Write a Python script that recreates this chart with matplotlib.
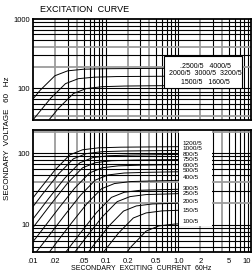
import matplotlib
matplotlib.use('Agg')
import matplotlib.pyplot as plt
from matplotlib.patches import Rectangle
from matplotlib.ticker import NullLocator

plt.rcParams['font.family'] = ['Liberation Sans Narrow', 'Liberation Sans', 'DejaVu Sans']

# ---------------- data ----------------
title = "EXCITATION  CURVE"
x_label = "SECONDARY  EXCITING  CURRENT  60Hz"
y_label = "SECONDARY  VOLTAGE   60   Hz"

x_ticks = [0.01, 0.02, 0.05, 0.1, 0.2, 0.5, 1.0, 2, 5, 10]
x_tick_labels = ['.01', '.02', '.05', '0.1', '0.2', '0.5', '1.0', '2', '5', '10']
top_y_ticks = [100, 1000]
top_y_tick_labels = ['100', '1000']
bottom_y_ticks = [10, 100]
bottom_y_tick_labels = ['10', '100']

top_legend_rows = ['.2500/5   4000/5', '2000/5  3000/5  3200/5', '1500/5   1600/5']

# top panel curves (current A, voltage V)
top_curve_a_i = [0.00125, 0.00375, 0.0075, 0.0125, 0.02, 0.03, 0.05, 0.1, 1.0]
top_curve_a_v = [4.9, 19.5, 48.8, 93.6, 152, 179, 189, 192, 195]
top_curve_b_i = [0.00175, 0.00525, 0.0105, 0.0175, 0.028, 0.042, 0.07, 0.14, 1.0]
top_curve_b_v = [3.75, 15, 37.5, 72, 117, 138, 145, 148, 150]
top_curve_c_i = [0.00225, 0.00675, 0.0135, 0.0225, 0.036, 0.054, 0.09, 0.18, 1.0]
top_curve_c_v = [2.7, 10.8, 27, 51.8, 84.2, 99.4, 105.8, 108, 110]

# bottom panel curves
bottom_ratios = ['1200/5', '1000/5', '800/5', '750/5', '600/5', '500/5',
                 '400/5', '300/5', '250/5', '200/5', '150/5', '100/5']
bottom_label_v = [137, 115, 97, 81, 68, 57, 46, 32.6, 27.3, 20.9, 16.1, 11.2]

c1200_i = [0.002, 0.006, 0.012, 0.02, 0.032, 0.048, 0.08, 0.16, 1.0]
c1200_v = [3.0, 12.1, 30.3, 58, 94.4, 111.3, 118.6, 121, 123]
c1000_i = [0.00225, 0.00675, 0.0135, 0.0225, 0.036, 0.054, 0.09, 0.18, 1.0]
c1000_v = [2.7, 10.7, 26.8, 51.4, 83.5, 98.4, 104.9, 107, 109]
c800_i = [0.00275, 0.00825, 0.0165, 0.0275, 0.044, 0.066, 0.11, 0.22, 1.0]
c800_v = [2.35, 9.4, 23.5, 45.1, 73.3, 86.5, 92.1, 94, 96]
c750_i = [0.003, 0.009, 0.018, 0.03, 0.048, 0.072, 0.12, 0.24, 1.0]
c750_v = [2.0, 8.0, 20, 38.4, 62.4, 73.6, 78.4, 80, 81.5]
c600_i = [0.00375, 0.01125, 0.0225, 0.0375, 0.06, 0.09, 0.15, 0.3, 1.0]
c600_v = [1.7, 6.8, 17, 32.6, 53, 62.6, 66.6, 68, 69.3]
c500_i = [0.0045, 0.0135, 0.027, 0.045, 0.072, 0.108, 0.18, 0.36, 1.0]
c500_v = [1.35, 5.4, 13.5, 25.9, 42.1, 49.7, 52.9, 54, 55]
c400_i = [0.0055, 0.0165, 0.033, 0.055, 0.088, 0.132, 0.22, 0.44, 1.0]
c400_v = [1.0, 4.1, 10.3, 19.7, 32, 37.7, 40.2, 41, 41.8]
c300_i = [0.0075, 0.0225, 0.045, 0.075, 0.12, 0.18, 0.3, 0.6, 1.0]
c300_v = [0.78, 3.1, 7.75, 14.9, 24.2, 28.5, 30.4, 31, 31.4]
c250_i = [0.009, 0.027, 0.054, 0.09, 0.144, 0.216, 0.36, 0.72, 1.0]
c250_v = [0.68, 2.7, 6.75, 13, 21.1, 24.8, 26.5, 27, 27.3]
c200_i = [0.011, 0.033, 0.066, 0.11, 0.176, 0.264, 0.44, 0.88, 1.0]
c200_v = [0.5, 2.0, 5.0, 9.6, 15.6, 18.4, 19.6, 20, 20.1]
c150_i = [0.015, 0.045, 0.09, 0.15, 0.24, 0.36, 0.6, 1.0]
c150_v = [0.4, 1.6, 4.0, 7.7, 12.5, 14.7, 15.7, 16]
c100_i = [0.0225, 0.0675, 0.135, 0.225, 0.36, 0.54, 0.9, 1.0]
c100_v = [0.26, 1.05, 2.6, 5.0, 8.2, 9.7, 10.3, 10.35]

top_curves = [(top_curve_a_i, top_curve_a_v), (top_curve_b_i, top_curve_b_v),
              (top_curve_c_i, top_curve_c_v)]
bottom_curves = [(c1200_i, c1200_v), (c1000_i, c1000_v), (c800_i, c800_v),
                 (c750_i, c750_v), (c600_i, c600_v), (c500_i, c500_v),
                 (c400_i, c400_v), (c300_i, c300_v), (c250_i, c250_v),
                 (c200_i, c200_v), (c150_i, c150_v), (c100_i, c100_v)]

# ---------------- figure ----------------
W, H = 253, 272
fig = plt.figure(figsize=(W / 100, H / 100), dpi=100)


def px_axes(l, t, r, b):
    return fig.add_axes([l / W, 1 - b / H, (r - l) / W, (b - t) / H])


ax_top = px_axes(33, 19, 251, 120)
ax_bot = px_axes(33, 130, 251, 252)

XLIM = (0.01, 10)
GRAY = '#9c9c9c'


def draw_grid(ax, ylo, yhi):
    for dec in [0.01, 0.1, 1]:
        for m in range(1, 10):
            x = dec * m
            if XLIM[0] < x < XLIM[1]:
                gray = m in (2, 4)
                ax.axvline(x, color=GRAY if gray else 'black',
                           lw=1.3 if gray else 0.8, zorder=1)
    for dec in [1, 10, 100]:
        for m in range(1, 10):
            y = dec * m
            if ylo < y < yhi:
                gray = m in (2, 4)
                ax.axhline(y, color=GRAY if gray else 'black',
                           lw=1.3 if gray else 0.8, zorder=1)


for ax, ylim in [(ax_top, (35, 1000)), (ax_bot, (4.2, 210))]:
    ax.set_xscale('log')
    ax.set_yscale('log')
    ax.set_xlim(*XLIM)
    ax.set_ylim(*ylim)
    draw_grid(ax, *ylim)
    for s in ax.spines.values():
        s.set_linewidth(1.3)
        s.set_zorder(5)
    ax.xaxis.set_minor_locator(NullLocator())
    ax.yaxis.set_minor_locator(NullLocator())
    ax.tick_params(length=0, labelsize=5.5, pad=2)

for ci, cv in top_curves:
    ax_top.plot(ci, cv, color='black', lw=0.7, zorder=2)
for ci, cv in bottom_curves:
    ax_bot.plot(ci, cv, color='black', lw=0.7, zorder=2)

# ticks
ax_top.set_xticks(x_ticks)
ax_top.set_xticklabels([])
ax_top.set_yticks(top_y_ticks)
ax_top.set_yticklabels(top_y_tick_labels)
ax_bot.set_xticks(x_ticks)
ax_bot.set_xticklabels(x_tick_labels)
ax_bot.get_xticklabels()[-1].set_horizontalalignment('right')
ax_bot.set_yticks(bottom_y_ticks)
ax_bot.set_yticklabels(bottom_y_tick_labels)
ax_bot.tick_params(axis='x', pad=4)

# top legend box
ax_top.add_patch(Rectangle((0.63, 102), 7.6 - 0.63, 290 - 102,
                           facecolor='white', edgecolor='black', lw=0.8, zorder=3))
for row, yv in zip(top_legend_rows, [210, 162, 123]):
    ax_top.text(2.35, yv, row, ha='center', va='center', fontsize=5, zorder=4)

# bottom label column
ax_bot.add_patch(Rectangle((1.03, 9.6), 2.9 - 1.03, 250 - 9.6,
                           facecolor='white', edgecolor='none', zorder=3))
for lab, yv in zip(bottom_ratios, bottom_label_v):
    ax_bot.text(1.15, yv, lab, ha='left', va='center', fontsize=4.6, zorder=4)

fig.text(85 / W, 1 - 10 / H, title, ha='center', va='center', fontsize=6.5)
fig.text(8 / W, 1 - 138 / H, y_label, ha='center', va='center',
         rotation=90, fontsize=5.8, family=['Liberation Sans', 'DejaVu Sans'])
fig.text(141 / W, 1 - 269 / H, x_label, ha='center', va='center', fontsize=5)

fig.savefig('out.png', dpi=100)
